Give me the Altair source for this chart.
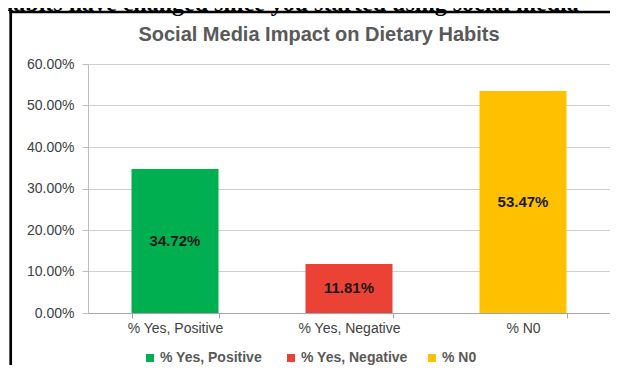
import altair as alt
import pandas as pd

categories = ["% Yes, Positive", "% Yes, Negative", "% N0"]
values = [0.3472, 0.1181, 0.5347]
value_labels = ["34.72%", "11.81%", "53.47%"]
colors = ["#00B050", "#EA4335", "#FFC000"]
y_ticks = [0.0, 0.1, 0.2, 0.3, 0.4, 0.5, 0.6]

chart_title = "Social Media Impact on Dietary Habits"
heading = "habits have changed since you started using social media"

FONT = "Liberation Sans, Arial, sans-serif"
W, H = 522, 249

df = pd.DataFrame({"cat": categories, "val": values, "lbl": value_labels})
one = pd.DataFrame({"k": [0]})

base = alt.Chart(df)

bars = base.mark_bar().encode(
    x=alt.X(
        "cat:N",
        sort=categories,
        scale=alt.Scale(paddingInner=0.5, paddingOuter=0.25),
        axis=alt.Axis(
            title=None, labelAngle=0, tickBand="extent", tickSize=5,
            labelPadding=3, labelFontSize=14, labelColor="#404040",
            labelFont=FONT, domainColor="#a6a6a6", tickColor="#a6a6a6",
            grid=False,
        ),
    ),
    y=alt.Y(
        "val:Q",
        scale=alt.Scale(domain=[0, 0.6]),
        axis=alt.Axis(
            title=None, format=".2%", values=y_ticks, tickSize=6,
            labelPadding=8, labelFontSize=14, labelColor="#404040",
            labelFont=FONT, domainColor="#bfbfbf", tickColor="#bfbfbf",
            gridColor="#d0d0d0", grid=True,
        ),
    ),
    color=alt.Color(
        "cat:N",
        sort=categories,
        scale=alt.Scale(domain=categories, range=colors),
        legend=alt.Legend(
            orient="none", legendX=55, legendY=287, direction="horizontal",
            columns=3, title=None, symbolType="square", symbolSize=64,
            symbolStrokeWidth=0, labelFontSize=14, labelFontWeight="bold",
            labelColor="#595959", labelFont=FONT, labelOffset=3,
            columnPadding=17, gridAlign="all", padding=0,
        ),
    ),
)

labels = base.transform_calculate(mid="datum.val / 2").mark_text(
    font=FONT, fontSize=15, fontWeight="bold", color="#1a1a1a"
).encode(
    x=alt.X("cat:N", sort=categories),
    y=alt.Y("mid:Q"),
    text="lbl:N",
)

title_txt = alt.Chart(one).mark_text(
    font=FONT, fontSize=20, fontWeight="bold", color="#595959",
    align="center", baseline="alphabetic",
).encode(x=alt.value(231), y=alt.value(-23), text=alt.value(chart_title))

heading_txt = alt.Chart(one).mark_text(
    font="Liberation Serif, Times New Roman, serif", fontSize=24,
    fontWeight="bold", color="#000000", align="left", baseline="alphabetic",
).encode(x=alt.value(-88), y=alt.value(-53.5), text=alt.value(heading))

frame_left = alt.Chart(one).mark_rule(color="#000000", strokeWidth=2.7).encode(
    x=alt.value(-77.3), y=alt.value(-53), y2=alt.value(H + 80)
)
frame_top = alt.Chart(one).mark_rule(color="#000000", strokeWidth=2.5).encode(
    x=alt.value(-78.6), x2=alt.value(W + 40), y=alt.value(-52)
)

chart = alt.layer(
    bars, labels, title_txt, heading_txt, frame_left, frame_top
).properties(
    width=W, height=H,
    padding={"left": 80, "top": 56, "right": 0, "bottom": 52},
    autosize=alt.AutoSizeParams(type="none"),
    background="#ffffff",
).configure_view(strokeWidth=0)

chart.save("out.html", embed_options={"renderer": "svg", "actions": False})
